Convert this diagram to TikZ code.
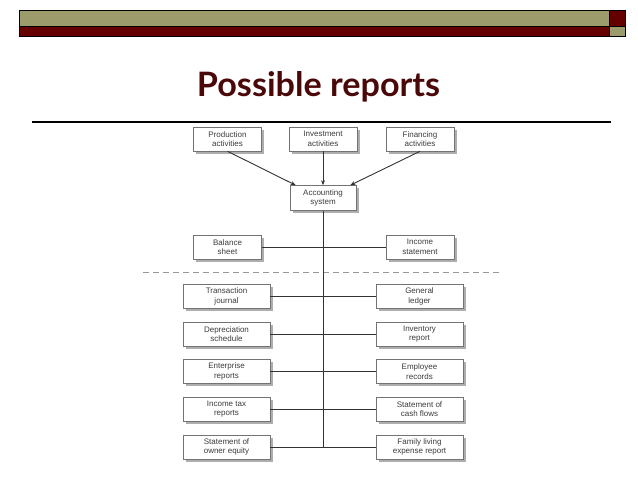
\documentclass[tikz,border=0pt]{standalone}
\usepackage{fontspec}
\setmainfont{Liberation Sans}
\newfontfamily\titlefont{Lato}
\usetikzlibrary{arrows.meta,shadows}
\definecolor{olivebar}{RGB}{156,155,108}
\definecolor{maroonbar}{RGB}{101,0,0}
\definecolor{titlecol}{RGB}{75,8,8}
\definecolor{boxtext}{RGB}{60,60,60}
\begin{document}
\begin{tikzpicture}[x=1pt,y=-1pt,
  box/.style={draw=black!55, fill=white, line width=0.6pt, minimum width=68pt, minimum height=24pt,
    inner sep=0pt, align=center, font=\fontsize{8}{9.5}\selectfont, text=boxtext,
    drop shadow={shadow xshift=2.5pt, shadow yshift=-2.5pt, fill=black!45, opacity=0.7}},
  wide/.style={box, minimum width=87pt},
  conn/.style={draw=black!80, line width=0.9pt},
  arr/.style={conn, -{Stealth[length=5pt,width=4pt]}},
  barpart/.style={draw=black, line width=0.7pt}]
\useasboundingbox (0,0) rectangle (638,479);
% header bar
\filldraw[barpart, fill=olivebar] (19,10) rectangle (609,26);
\filldraw[barpart, fill=maroonbar] (609,10) rectangle (625,26);
\filldraw[barpart, fill=maroonbar] (19,26) rectangle (609,36);
\filldraw[barpart, fill=olivebar] (609,26) rectangle (625,36);
% title
\node[anchor=base, inner sep=0pt, text=titlecol] (title) at (318.5,96)
  {\resizebox{243pt}{25pt}{\titlefont\bfseries Possible reports}};
\draw[line width=1.2pt] (32,122) -- (611,122);
% separator
\draw[dashed, dash pattern=on 6pt off 4pt, draw=black!40, line width=0.9pt] (143,272) -- (502,272);
% nodes
\node[box] (prod) at (227.5,139) {Production\\activities};
\node[box] (inv) at (323,139) {Investment\\activities};
\node[box] (fin) at (420,139) {Financing\\activities};
\node[box, minimum width=66pt, minimum height=25pt] (acc) at (323,198) {Accounting\\system};
\node[box] (bal) at (227.5,247) {Balance\\sheet};
\node[box] (inc) at (420,247) {Income\\statement};
\node[wide] (l1) at (226.5,296.5) {Transaction\\journal};
\node[wide] (r1) at (419.5,296.5) {General\\ledger};
\node[wide] (l2) at (226.5,334) {Depreciation\\schedule};
\node[wide] (r2) at (419.5,334) {Inventory\\report};
\node[wide] (l3) at (226.5,371.5) {Enterprise\\reports};
\node[wide] (r3) at (419.5,371.5) {Employee\\records};
\node[wide] (l4) at (226.5,409) {Income tax\\reports};
\node[wide] (r4) at (419.5,409) {Statement of\\cash flows};
\node[wide] (l5) at (226.5,447) {Statement of\\owner equity};
\node[wide] (r5) at (419.5,447) {Family living\\expense report};
% arrows
\draw[arr] (prod.south) -- ([xshift=6pt]acc.north west);
\draw[arr] (inv.south) -- (acc.north);
\draw[arr] (fin.south) -- ([xshift=-6pt]acc.north east);
% connectors
\coordinate (vend) at (acc.south |- l5.east);
\draw[conn] (acc.south) -- (vend);
\draw[conn] (bal.east) -- (inc.west);
\draw[conn] (l1.east) -- (r1.west);
\draw[conn] (l2.east) -- (r2.west);
\draw[conn] (l3.east) -- (r3.west);
\draw[conn] (l4.east) -- (r4.west);
\draw[conn] (l5.east) -- (r5.west);
\end{tikzpicture}
\end{document}
